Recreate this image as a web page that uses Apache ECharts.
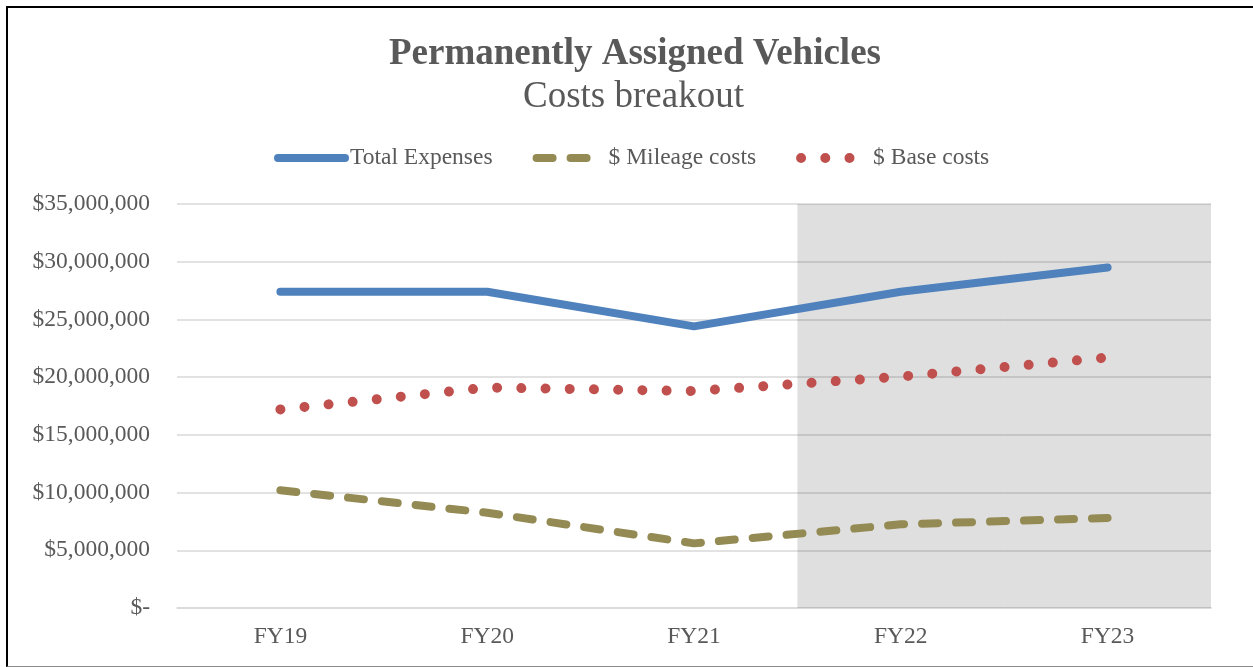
<!DOCTYPE html>
<html>
<head>
<meta charset="utf-8">
<script src="https://cdn.jsdelivr.net/npm/echarts@6/dist/echarts.min.js"></script>
<style>
  html, body { margin: 0; padding: 0; background: #fff; overflow: hidden; }
  #frame {
    position: absolute; left: 6px; top: 6px; width: 1300px; height: 658px;
    border-left: 2px solid #000; border-top: 2px solid #000; border-bottom: 1px solid #8c8c8c;
  }
  #chart { position: absolute; left: 0; top: 0; width: 1253px; height: 667px; }
</style>
</head>
<body>
<div id="frame"></div>
<div id="chart"></div>
<script>
  // data
  const years = ["FY19", "FY20", "FY21", "FY22", "FY23"];
  const totalExpenses = [27400000, 27400000, 24400000, 27400000, 29500000];
  const mileageCosts = [10200000, 8250000, 5600000, 7250000, 7800000];
  const baseCosts = [17200000, 19100000, 18800000, 20050000, 21700000];
  // projected years get a grey band up to the axis max
  const projectedBand = [null, null, null, 35000000, 35000000];

  const FONT = "'Liberation Serif', 'Times New Roman', serif";
  const TEXT = "#595959";

  const fmtMoney = (v) => (v === 0 ? "$-" : "$" + v.toLocaleString("en-US"));

  const chart = echarts.init(document.getElementById("chart"));

  const option = {
    animation: false,
    title: [
      {
        text: "Permanently Assigned Vehicles",
        left: 384,
        top: 31,
        textStyle: { fontFamily: FONT, fontSize: 37, fontWeight: "bold", color: TEXT },
      },
      {
        text: "Costs breakout",
        left: 518,
        top: 74,
        textStyle: { fontFamily: FONT, fontSize: 37, fontWeight: "normal", color: TEXT },
      },
    ],
    legend: {
      data: ["Total Expenses", "$ Mileage costs", "$ Base costs"],
      left: 269,
      top: 141,
      itemWidth: 67,
      itemHeight: 14,
      itemGap: 40,
      textStyle: { fontFamily: FONT, fontSize: 23.5, color: TEXT },
      lineStyle: { width: "inherit", type: "inherit", cap: "inherit" },
      itemStyle: { opacity: 0 },
    },
    grid: { left: 177, right: 42, top: 204, bottom: 59 },
    xAxis: {
      type: "category",
      data: years,
      boundaryGap: true,
      axisLine: { lineStyle: { color: "#d9d9d9", width: 1.5 } },
      axisTick: { show: false },
      axisLabel: { fontFamily: FONT, fontSize: 23.5, color: TEXT, margin: 17 },
    },
    yAxis: {
      type: "value",
      min: 0,
      max: 35000000,
      interval: 5000000,
      axisLine: { show: false },
      axisTick: { show: false },
      splitLine: { lineStyle: { color: "#d9d9d9", width: 1.5 } },
      axisLabel: {
        fontFamily: FONT,
        fontSize: 23.5,
        color: TEXT,
        margin: 27,
        formatter: fmtMoney,
      },
    },
    series: [
      {
        name: "projected",
        type: "bar",
        data: projectedBand,
        barCategoryGap: "0%",
        silent: true,
        itemStyle: { color: "rgba(0,0,0,0.125)" },
        z: 1,
      },
      {
        name: "Total Expenses",
        type: "line",
        data: totalExpenses,
        symbol: "none",
        lineStyle: { color: "#4f81bd", width: 8, cap: "round", join: "round" },
        itemStyle: { color: "#4f81bd" },
        z: 5,
      },
      {
        name: "$ Mileage costs",
        type: "line",
        data: mileageCosts,
        symbol: "none",
        lineStyle: { color: "#948a54", width: 8, type: [16, 18], cap: "round" },
        itemStyle: { color: "#948a54" },
        z: 4,
      },
      {
        name: "$ Base costs",
        type: "line",
        data: baseCosts,
        symbol: "none",
        lineStyle: { color: "#c0504d", width: 10, type: [0.01, 24.2], cap: "round" },
        itemStyle: { color: "#c0504d" },
        z: 4,
      },
    ],
  };

  chart.setOption(option);
</script>
</body>
</html>
